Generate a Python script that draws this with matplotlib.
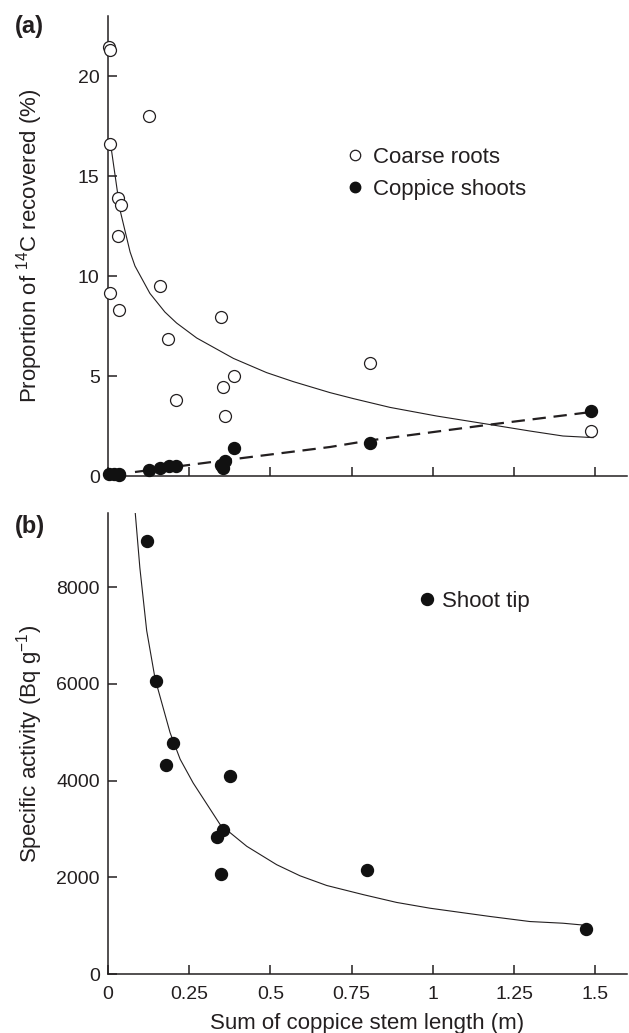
import matplotlib
matplotlib.use("Agg")
import matplotlib.pyplot as plt
from matplotlib.lines import Line2D

plt.rcParams['font.family'] = ['Liberation Sans', 'DejaVu Sans']
plt.rcParams['mathtext.fontset'] = 'custom'
plt.rcParams['mathtext.rm'] = 'Liberation Sans'
plt.rcParams['mathtext.it'] = 'Liberation Sans:italic'
plt.rcParams['mathtext.bf'] = 'Liberation Sans:bold'

INK = '#231f20'

# ---------------- Panel (a) data ----------------
roots_x = [0.004, 0.006, 0.126, 0.006, 0.031, 0.039, 0.032, 0.006, 0.033,
           0.160, 0.186, 0.348, 0.389, 0.355, 0.208, 0.361, 0.805, 1.485]
roots_y = [21.45, 21.3, 18.0, 16.6, 13.9, 13.55, 12.0, 9.15, 8.3,
           9.5, 6.85, 7.95, 5.0, 4.45, 3.8, 3.0, 5.65, 2.25]

shoots_x = [0.004, 0.020, 0.033, 0.035, 0.127, 0.160, 0.188, 0.208,
            0.348, 0.355, 0.361, 0.389, 0.805, 1.485]
shoots_y = [0.08, 0.08, 0.12, 0.05, 0.30, 0.42, 0.50, 0.52,
            0.55, 0.40, 0.75, 1.38, 1.63, 3.25]

roots_fit_x = [0.008, 0.037, 0.068, 0.083, 0.129, 0.175, 0.211, 0.273, 0.386,
               0.488, 0.570, 0.683, 0.755, 0.868, 1.011, 1.165, 1.298, 1.400, 1.493]
roots_fit_y = [16.6, 13.3, 11.2, 10.5, 9.13, 8.2, 7.65, 6.9, 5.88,
               5.17, 4.72, 4.17, 3.87, 3.43, 3.0, 2.6, 2.25, 2.0, 1.92]

shoots_fit_x = [0.083, 0.390, 0.683, 0.806, 1.165, 1.487]
shoots_fit_y = [0.20, 0.85, 1.45, 1.78, 2.55, 3.20]

# ---------------- Panel (b) data ----------------
tip_x = [0.119, 0.147, 0.201, 0.180, 0.374, 0.334, 0.354, 0.348, 0.797, 1.470]
tip_y = [8960, 6060, 4780, 4330, 4100, 2840, 2970, 2060, 2160, 930]

tip_fit_x = [0.083, 0.098, 0.119, 0.145, 0.191, 0.222, 0.262, 0.345, 0.427, 0.519,
             0.591, 0.673, 0.786, 0.888, 0.991, 1.175, 1.298, 1.400, 1.457]
tip_fit_y = [9600, 8400, 7100, 6100, 4990, 4440, 3950, 3090, 2640, 2260,
             2030, 1830, 1640, 1480, 1360, 1190, 1085, 1050, 1015]

xticks = [0, 0.25, 0.5, 0.75, 1, 1.25, 1.5]
xticklabels = ['0', '0.25', '0.5', '0.75', '1', '1.25', '1.5']
yticks_a = [0, 5, 10, 15, 20]
yticks_b = [0, 2000, 4000, 6000, 8000]

fig = plt.figure(figsize=(6.29, 10.33), dpi=100)
ax_a = fig.add_axes([0.1717, 0.5392, 0.8251, 0.4453])
ax_b = fig.add_axes([0.1717, 0.0571, 0.8251, 0.4463])

def style(ax):
    for s in ['top', 'right']:
        ax.spines[s].set_visible(False)
    for s in ['left', 'bottom']:
        ax.spines[s].set_linewidth(1.1)
        ax.spines[s].set_color(INK)
    ax.tick_params(direction='in', length=6.5, width=1.1, pad=6,
                   labelsize=14, colors=INK)
    ax.tick_params(axis='x', pad=8.5)
    ax.set_xlim(0, 1.597)
    ax.set_xticks(xticks)

# Panel (a)
style(ax_a)
ax_a.set_ylim(0, 23)
ax_a.set_yticks(yticks_a)
ax_a.set_xticklabels([])
ax_a.plot(roots_fit_x, roots_fit_y, '-', color=INK, lw=0.8)
ax_a.plot(shoots_fit_x, shoots_fit_y, '--', color=INK, lw=1.6, dashes=(6, 3.5))
ax_a.plot(roots_x, roots_y, 'o', ms=8.6, mfc='white', mec=INK, mew=0.9,
          clip_on=False, zorder=3)
ax_a.plot(shoots_x, shoots_y, 'o', ms=8.6, mfc='#111111', mec='#111111',
          clip_on=False, zorder=4)
ax_a.set_ylabel('Proportion of $^{14}$C recovered (%)', fontsize=16, color=INK)
ax_a.yaxis.set_label_coords(-0.122, 0.5)

h1 = Line2D([], [], ls='none', marker='o', ms=7.5, mfc='white', mec=INK, mew=0.9)
h2 = Line2D([], [], ls='none', marker='o', ms=7.5, mfc='#111111', mec='#111111')
leg = ax_a.legend([h1, h2], ['Coarse roots', 'Coppice shoots'], loc='upper left',
                  bbox_to_anchor=(0.463, 0.715), frameon=False, fontsize=16,
                  borderpad=0, borderaxespad=0, handlelength=0.6,
                  handletextpad=0.5, labelspacing=0.5, labelcolor=INK)

# Panel (b)
style(ax_b)
ax_b.set_ylim(0, 9530)
ax_b.set_yticks(yticks_b)
ax_b.set_xticklabels(xticklabels)
ax_b.plot(tip_fit_x, tip_fit_y, '-', color=INK, lw=0.8)
ax_b.plot(tip_x, tip_y, 'o', ms=8.6, mfc='#111111', mec='#111111',
          clip_on=False, zorder=4)
ax_b.set_ylabel('Specific activity (Bq g$^{-1}$)', fontsize=16, color=INK)
ax_b.yaxis.set_label_coords(-0.122, 0.5)
ax_b.set_xlabel('Sum of coppice stem length (m)', fontsize=16, color=INK)
ax_b.xaxis.set_label_coords(0.5, -0.084)

h3 = Line2D([], [], ls='none', marker='o', ms=8.6, mfc='#111111', mec='#111111')
ax_b.legend([h3], ['Shoot tip'], loc='upper left', bbox_to_anchor=(0.603, 0.831),
            frameon=False, fontsize=16, borderpad=0, borderaxespad=0,
            handlelength=0.5, handletextpad=0.45, labelcolor=INK)

fig.text(15 / 629, 1 - 26 / 1033, '(a)', fontsize=17, fontweight='bold',
         ha='left', va='center', color=INK)
fig.text(15 / 629, 1 - 526 / 1033, '(b)', fontsize=17, fontweight='bold',
         ha='left', va='center', color=INK)

fig.savefig('out.png', dpi=100)
